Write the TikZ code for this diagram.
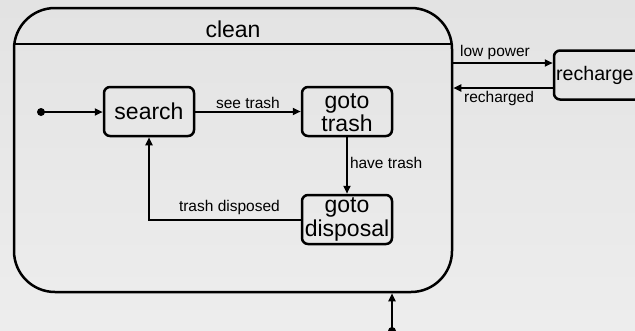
\documentclass[tikz,border=0pt]{standalone}
\usepackage{fontspec}
\setmainfont{Liberation Sans}
\usetikzlibrary{arrows.meta}
\begin{document}
\begin{tikzpicture}[x=1pt,y=-1pt,
  statebox/.style={draw=black, line width=2.5pt, rounded corners=6pt, minimum width=90pt, minimum height=49pt, inner sep=0pt, align=center, font=\fontsize{23}{24.5}\selectfont},
  cleanbox/.style={draw=black, line width=2.5pt, rounded corners=41pt, minimum width=438pt, minimum height=284pt, inner sep=0pt},
  arr/.style={line width=2pt, -{Triangle[length=8pt,width=7pt]}},
  lbl/.style={font=\fontsize{15.5}{17}\selectfont, inner sep=2pt},
  dotstyle/.style={fill=black}
]
\useasboundingbox (0,0) rectangle (635,330);
\shade[top color=black!11, bottom color=black!7] (0,0) rectangle (635,330);

\node[cleanbox] (clean) at (233,150) {};
\node[font=\fontsize{23}{24}\selectfont] (cleanlabel) at (233,29) {clean};
\draw[line width=2.5pt] (clean.west |- 0,44) -- (clean.east |- 0,44);

\node[statebox] (search) at (149,111.5) {search};
\node[statebox, text depth=0pt] (gototrash) at (347,111.5) {\raisebox{-2pt}{\shortstack{goto\\[-1pt]trash}}};
\node[statebox] (gotodisp) at (347,219.5) {\raisebox{-2pt}{\shortstack{goto\\[-1pt]disposal}}};
\node[draw=black, line width=2.5pt, rounded corners=6pt, minimum width=98pt, minimum height=49pt, inner sep=0pt] (recharge) at (603,75) {};
\node[anchor=west, inner sep=0pt, font=\fontsize{19.6}{22}\selectfont] (rechargelabel) at (556,75) {recharge};

\coordinate (init) at (41,112);
\fill[dotstyle] (init) circle[radius=4pt];
\draw[arr] (init) -- (search.west |- init);

\draw[arr] (search) -- (gototrash) node[midway, above, lbl] {see trash};
\draw[arr] (gototrash) -- (gotodisp) node[midway, right, lbl, yshift=3pt] {have trash};
\draw[arr] (gotodisp.west) -| (search.south) node[pos=0.235, above, lbl, yshift=2pt] {trash disposed};

\draw[arr] (clean.east |- 0,63) -- (recharge.west |- 0,63) node[midway, above, lbl, xshift=-8pt] {low power};
\draw[arr] (recharge.west |- 0,88) -- (clean.east |- 0,88) node[midway, below, lbl, xshift=-4pt] {recharged};

\coordinate (start2) at (392,331);
\fill[dotstyle] (start2) circle[radius=4pt];
\draw[arr] (start2) -- (clean.south -| start2);
\end{tikzpicture}
\end{document}
